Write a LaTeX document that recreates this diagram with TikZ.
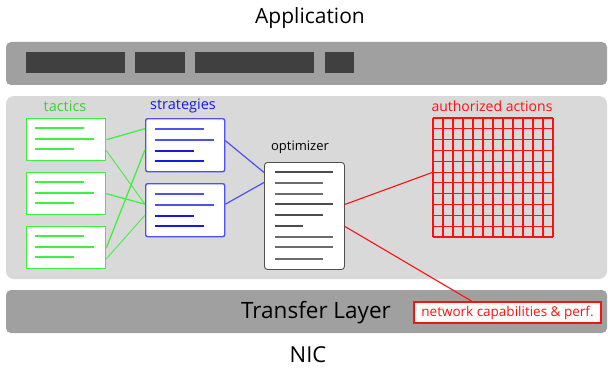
\documentclass[tikz,border=0pt]{standalone}
\usepackage{fontspec}
\setmainfont{Open Sans}
\usetikzlibrary{calc}
\definecolor{barg}{HTML}{A0A0A0}
\definecolor{panelg}{HTML}{D9D9D9}
\definecolor{blockg}{HTML}{404040}
\definecolor{tgreen}{HTML}{40F040}
\definecolor{tgreentxt}{HTML}{30D830}
\definecolor{sblue}{HTML}{5050F0}
\definecolor{sbluedk}{HTML}{1818E8}
\definecolor{rred}{HTML}{FF1010}
\definecolor{optborder}{HTML}{505050}
\tikzset{
  bar/.style={fill=barg, draw=none, rounded corners=5pt},
  panel/.style={fill=panelg, draw=none, rounded corners=8pt},
  blk/.style={fill=blockg, draw=none},
  tbox/.style={draw=tgreen, fill=white, line width=1.4pt, minimum width=79pt, minimum height=42pt, anchor=north west, inner sep=0pt},
  sbox/.style={draw=sblue, fill=white, line width=1.4pt, rounded corners=2pt, minimum width=79pt, minimum height=53pt, anchor=north west, inner sep=0pt},
  obox/.style={draw=optborder, fill=white, line width=0.9pt, rounded corners=3pt, minimum width=80pt, minimum height=107pt, anchor=north west, inner sep=0pt},
  gbox/.style={draw=none, minimum width=120pt, minimum height=119pt, anchor=north west, inner sep=0pt},
  gridline/.style={draw=rred, line width=1.15pt},
  tline/.style={draw=tgreen, line width=1.1pt},
  sline/.style={draw=sblue, line width=1.1pt},
  slinedk/.style={draw=sbluedk, line width=1.1pt},
  oline/.style={draw=gray!85!black, line width=1.1pt},
  olinedk/.style={draw=black!70, line width=1.1pt},
  gcon/.style={draw=tgreen, line width=0.9pt},
  gconthick/.style={draw=tgreen, line width=1.3pt},
  bcon/.style={draw=sblue, line width=1.2pt},
  rcon/.style={draw=rred, line width=1.1pt},
  lbl/.style={inner sep=0pt},
}
\begin{document}
\begin{tikzpicture}[x=1pt,y=-1pt]
\useasboundingbox (0,0) rectangle (608,369);
\fill[white] (0,0) rectangle (608,369);
% titles
\node[lbl, font=\fontsize{21}{24}\selectfont] (app) at (310,18) {Application};
\node[lbl, font=\fontsize{22}{25}\selectfont] (nic) at (308,355) {NIC};
% top bar
\path[bar] (6,42) rectangle (607,85);
\node[blk, minimum width=99pt, minimum height=21pt, anchor=north west, inner sep=0pt] (b1) at (26,52) {};
\node[blk, minimum width=50pt, minimum height=21pt, anchor=north west, inner sep=0pt] (b2) at (135,52) {};
\node[blk, minimum width=119pt, minimum height=21pt, anchor=north west, inner sep=0pt] (b3) at (195,52) {};
\node[blk, minimum width=29pt, minimum height=21pt, anchor=north west, inner sep=0pt] (b4) at (325,52) {};
% middle panel
\path[panel] (6,96) rectangle (607,279);
% bottom bar
\path[bar] (6,290) rectangle (607,333);
\node[lbl, font=\fontsize{22.5}{25}\selectfont] (tl) at (316,313) {Transfer Layer};
% labels
\node[lbl, text=tgreentxt, font=\fontsize{14.5}{17}\selectfont] (tac) at (65,106) {tactics};
\node[lbl, text=sbluedk, font=\fontsize{14.5}{17}\selectfont] (str) at (183,106) {strategies};
\node[lbl, font=\fontsize{13}{15}\selectfont] (optl) at (300,147) {optimizer};
\node[lbl, text=rred, font=\fontsize{14}{16}\selectfont] (aal) at (492,106) {authorized actions};
% tactics boxes
\node[tbox] (t1) at (26,118) {};
\node[tbox] (t2) at (26,172) {};
\node[tbox] (t3) at (26,226) {};
\foreach \t in {t1,t2,t3}{
  \draw[tline] ([shift={(9,10)}]\t.north west) -- ++(49,0);
  \draw[tline] ([shift={(9,21)}]\t.north west) -- ++(59,0);
  \draw[tline] ([shift={(9,31)}]\t.north west) -- ++(39,0);
}
% strategy boxes
\node[sbox] (s1) at (145,118) {};
\node[sbox] (s2) at (145,183) {};
\foreach \s in {s1,s2}{
  \draw[sline] ([shift={(10,11)}]\s.north west) -- ++(49,0);
  \draw[sline] ([shift={(10,22)}]\s.north west) -- ++(59,0);
  \draw[slinedk] ([shift={(10,33)}]\s.north west) -- ++(39,0);
  \draw[slinedk] ([shift={(10,43)}]\s.north west) -- ++(49,0);
}
% optimizer
\node[obox] (opt) at (264,162) {};
\draw[olinedk] ([shift={(11,10)}]opt.north west) -- ++(58,0);
\draw[oline] ([shift={(11,21)}]opt.north west) -- ++(48,0);
\draw[oline] ([shift={(11,32)}]opt.north west) -- ++(48,0);
\draw[olinedk] ([shift={(11,42)}]opt.north west) -- ++(58,0);
\draw[olinedk] ([shift={(11,53)}]opt.north west) -- ++(48,0);
\draw[olinedk] ([shift={(11,64)}]opt.north west) -- ++(28,0);
\draw[oline] ([shift={(11,75)}]opt.north west) -- ++(58,0);
\draw[oline] ([shift={(11,85)}]opt.north west) -- ++(58,0);
\draw[oline] ([shift={(11,97)}]opt.north west) -- ++(48,0);
% grid
\node[gbox] (g) at (433,118) {};
\foreach \i in {0,...,12}{
  \draw[gridline] ([shift={(10*\i,0)}]g.north west) -- ([shift={(10*\i,0)}]g.south west);
}
\foreach \j in {0,...,11}{
  \draw[gridline] ([shift={(0,119*\j/11)}]g.north west) -- ([shift={(0,119*\j/11)}]g.north east);
}
% network capabilities box
\node[draw=rred, fill=white, line width=1.3pt, text=rred, font=\fontsize{13.5}{15}\selectfont, minimum width=187pt, minimum height=21pt, inner sep=0pt] (ncp) at (507.5,312.5) {network capabilities \& perf.};
% connectors green
\draw[gconthick] (t1.east) -- ([yshift=16.5pt]s1.west);
\draw[gcon] ([yshift=-11pt]t1.east) -- ([yshift=6pt]s2.west);
\draw[gconthick] (t2.east) -- ([yshift=6pt]s2.west);
\draw[gconthick] (t3.east) -- ([yshift=-4.5pt]s1.west);
\draw[gcon] ([yshift=-11pt]t3.east) -- ([yshift=-5pt]s2.west);
% connectors blue
\draw[bcon] ([yshift=4.5pt]s1.east) -- ([yshift=43.5pt]opt.west);
\draw[bcon] ([yshift=6pt]s2.east) -- ([yshift=33.5pt]opt.west);
% connectors red
\draw[rcon] ([yshift=11.5pt]opt.east) -- ([yshift=5.5pt]g.west);
\draw[rcon] ([yshift=-10.5pt]opt.east) -- ([xshift=-35.5pt]ncp.north);
\end{tikzpicture}
\end{document}
